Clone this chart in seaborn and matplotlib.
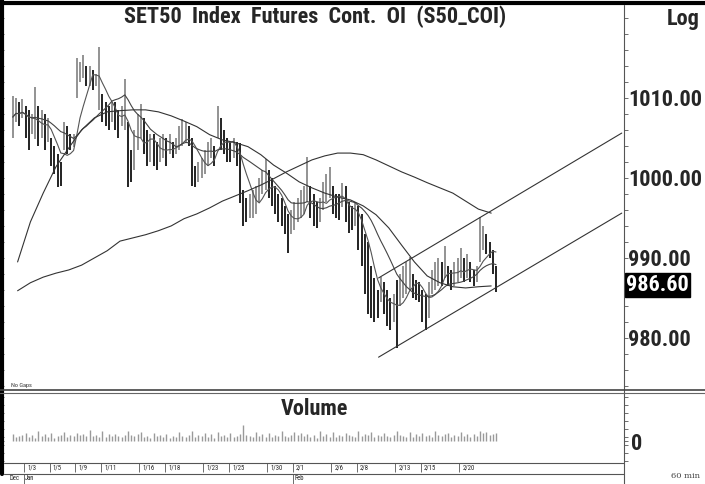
import numpy as np
import pandas as pd
import seaborn as sns
import matplotlib.pyplot as plt
from matplotlib.lines import Line2D
from matplotlib import font_manager

# --- data (4 bars per trading day) ---
days = ['12/30', '1/3', '1/4', '1/5', '1/6', '1/9', '1/10', '1/11', '1/12', '1/13',
        '1/16', '1/17', '1/18', '1/19', '1/20', '1/23', '1/24', '1/25', '1/26', '1/27',
        '1/30', '1/31', '2/1', '2/2', '2/3', '2/6', '2/7', '2/8', '2/9', '2/10',
        '2/13', '2/14', '2/15', '2/16', '2/17', '2/20', '2/21', '2/22']
labelled_days = ['1/3', '1/5', '1/9', '1/11', '1/16', '1/18', '1/23', '1/25', '1/30',
                 '2/1', '2/6', '2/8', '2/13', '2/15', '2/20']

highs = [
    1010.2, 1010.0, 1009.5, 1009.8,  1009.0, 1008.5, 1008.0, 1011.3,
    1009.0, 1008.5, 1008.0, 1007.5,  1005.0, 1004.0, 1003.0, 1002.0,
    1007.0, 1006.5, 1005.5, 1005.5,  1015.0, 1014.5, 1015.3, 1014.0,
    1014.0, 1013.5, 1013.0, 1016.3,  1010.5, 1009.5, 1009.0, 1009.5,
    1009.5, 1008.5, 1009.0, 1012.3,  1007.0, 1003.5, 1006.0, 1008.0,
    1009.2, 1007.5, 1006.0, 1005.5,  1005.5, 1004.5, 1005.0, 1005.5,
    1005.0, 1005.5, 1004.5, 1005.0,  1006.5, 1007.3, 1007.0, 1006.5,
    1005.0, 1001.5, 1002.0, 1002.5,  1003.5, 1004.5, 1005.0, 1004.0,
    1009.0, 1007.5, 1006.0, 1005.0,  1004.5, 1005.0, 1004.5, 1004.4,
    998.5, 997.5, 998.0, 998.5,      999.0, 1000.0, 1001.0, 1002.3,
    1001.0, 1000.0, 999.0, 998.0,    997.5, 996.5, 995.5, 996.0,
    997.0, 997.5, 998.5, 999.0,      1002.6, 999.0, 998.0, 997.0,
    997.5, 999.5, 1000.5, 1001.4,    999.0, 998.0, 998.0, 999.4,
    999.0, 997.0, 996.5, 997.0,      996.5, 995.5, 993.0, 992.0,
    989.0, 987.5, 986.0, 987.6,      987.0, 986.0, 985.0, 985.5,
    987.2, 988.0, 989.0, 989.5,      990.1, 988.0, 987.2, 987.0,
    986.0, 985.5, 987.0, 988.5,      989.5, 990.0, 989.5, 991.5,
    989.0, 988.5, 989.5, 990.0,      991.3, 990.0, 990.5, 989.5,
    988.5, 989.0, 995.1, 994.0,      993.0, 992.0, 991.0, 989.0,
]
lows = [
    1005.0, 1007.0, 1006.5, 1007.5,  1005.0, 1003.5, 1005.5, 1004.8,
    1004.0, 1005.0, 1003.5, 1004.5,  1001.5, 1000.5, 998.8, 999.0,
    1003.5, 1003.0, 1003.5, 1003.8,  1010.0, 1012.0, 1012.5, 1011.5,
    1011.5, 1011.0, 1011.5, 1008.5,  1007.0, 1006.5, 1006.0, 1007.0,
    1006.0, 1005.0, 1006.5, 1006.0,  998.8, 999.5, 1001.0, 1003.5,
    1005.0, 1003.0, 1001.5, 1002.0,  1001.5, 1001.0, 1002.0, 1002.5,
    1001.5, 1003.0, 1002.5, 1003.0,  1003.5, 1004.0, 1004.5, 1004.0,
    999.0, 998.8, 999.5, 1000.0,     1000.5, 1001.5, 1002.5, 1001.5,
    1005.0, 1003.5, 1003.0, 1002.0,  1002.0, 1002.5, 1001.5, 996.9,
    994.0, 994.5, 995.0, 995.0,      995.5, 997.0, 998.0, 998.5,
    997.5, 996.5, 995.5, 994.5,      994.0, 993.0, 990.6, 993.0,
    993.5, 994.5, 995.0, 995.5,      997.0, 995.0, 994.0, 993.8,
    994.5, 996.0, 997.0, 997.5,      995.5, 995.0, 994.8, 996.4,
    994.5, 993.1, 993.5, 994.0,      991.0, 989.0, 985.5, 983.0,
    982.5, 982.0, 982.5, 984.5,      983.0, 981.5, 981.0, 982.0,
    978.8, 984.0, 985.0, 985.5,      986.0, 985.0, 984.8, 984.5,
    982.0, 981.0, 982.5, 985.5,      986.0, 986.5, 986.5, 987.5,
    986.5, 986.0, 986.5, 987.0,      987.5, 987.0, 987.5, 987.0,
    986.5, 987.0, 989.5, 991.0,      990.5, 990.0, 988.0, 985.8,
]
# volume in thousand contracts
volume = [
    7, 4, 5, 6,  8, 4, 6, 3,  10, 5, 7, 4,  8, 3, 5, 6,  9, 4, 6, 5,
    8, 6, 7, 5,  11, 5, 6, 4,  10, 4, 7, 5,  7, 5, 4, 6,  10, 6, 5, 7,
    9, 4, 5, 3,  8, 5, 6, 4,  7, 3, 5, 4,  9, 5, 4, 6,  10, 4, 6, 5,
    8, 4, 7, 3,  9, 5, 6, 4,  8, 4, 5, 7,  16, 6, 5, 4,  9, 5, 7, 4,
    8, 4, 6, 5,  10, 5, 4, 6,  9, 6, 8, 5,  7, 4, 6, 3,  10, 5, 7, 4,
    9, 4, 6, 5,  8, 6, 5, 4,  10, 5, 7, 6,  9, 4, 6, 5,  8, 5, 4, 6,
    10, 6, 5, 4,  9, 4, 7, 5,  8, 5, 6, 4,  10, 6, 5, 7,  8, 4, 6, 5,
    9, 5, 7, 4,  7, 5, 10, 8,  9, 6, 7, 8,
]
# slower moving averages, one reading per day
ma_slow = [985.9, 986.9, 987.6, 988.1, 988.5, 989.1, 990.0, 990.9, 992.1, 992.5,
           992.9, 993.4, 994.0, 994.9, 995.5, 996.25, 997.1, 997.75, 998.4, 999.1,
           999.9, 1000.75, 1001.5, 1002.25, 1002.75, 1003.1, 1003.1, 1002.9, 1002.25, 1001.5,
           1000.75, 1000.1, 999.4, 998.75, 998.1, 997.1, 996.1, 995.6]
ma_med = [989.5, 994.5, 998.1, 1001.4, 1003.75, 1006.0, 1007.5, 1008.25, 1008.4, 1008.5,
          1008.5, 1008.25, 1007.75, 1007.1, 1006.4, 1005.4, 1004.75, 1004.4, 1003.9, 1002.9,
          1001.6, 1000.6, 999.5, 998.75, 998.1, 997.6, 997.25, 996.5, 995.4, 993.75,
          991.6, 989.5, 987.75, 986.9, 986.4, 986.25, 986.4, 986.5]
# trend channel (day position, price)
chan_x = [28.7, 47.7]
chan_upper = [987.5, 1005.6]
chan_lower = [977.6, 995.6]
last_price = 986.60

# --- frame ---
df = pd.DataFrame({'high': highs, 'low': lows, 'volume': volume})
df['x'] = np.arange(len(df)) / 4 + 0.125
df['mid'] = (df['high'] + df['low']) / 2
df['ma_fast'] = df['mid'].rolling(6, min_periods=1).mean()
df['ma_short'] = df['mid'].rolling(16, min_periods=1).mean()
df['up'] = df['mid'].diff().fillna(0) >= 0
day_x = np.arange(len(days)) + 0.5

sns.set_theme(style='white')

# pick a narrow bold face if one is installed, else plain Arial-metric sans
installed = {f.name for f in font_manager.fontManager.ttflist}
narrow = None
for cand in ['Liberation Sans Narrow', 'Roboto Condensed', 'DejaVu Sans Condensed',
             'Open Sans Condensed']:
    if cand in installed:
        narrow = cand
        break
if narrow:
    plt.rcParams['font.family'] = [narrow, 'DejaVu Sans']
    big = 16
else:
    plt.rcParams['font.family'] = ['Liberation Sans', 'DejaVu Sans']
    big = 13.5

W, H = 705, 484
def box(l, t, r, b):
    return [l / W, 1 - b / H, (r - l) / W, (b - t) / H]

fig = plt.figure(figsize=(7.05, 4.84), dpi=100)
ax = fig.add_axes(box(4, 5, 624, 390))
axv = fig.add_axes(box(4, 393, 624, 463), sharex=ax)
axd = fig.add_axes(box(4, 463, 624, 484), sharex=ax)
xlim = (-0.5625, 47.875)

# price bars
for up, grp in df.groupby('up'):
    ax.vlines(grp['x'], grp['low'], grp['high'],
              color='#8a8a8a' if up else '#111111', lw=1.3)

line_kw = dict(legend=False, lw=0.8)
sns.lineplot(x=df['x'], y=df['ma_fast'], ax=ax, color='#555555', **line_kw)
sns.lineplot(x=df['x'], y=df['ma_short'], ax=ax, color='#444444', **line_kw)
sns.lineplot(x=day_x, y=ma_med, ax=ax, color='#333333', **line_kw)
sns.lineplot(x=day_x, y=ma_slow, ax=ax, color='#333333', **line_kw)
sns.lineplot(x=chan_x, y=chan_upper, ax=ax, color='#333333', **line_kw)
sns.lineplot(x=chan_x, y=chan_lower, ax=ax, color='#333333', **line_kw)

ax.set_xlim(*xlim)
ax.set_ylim(973.5, 1021.6)
ax.set_xlabel('')
ax.set_ylabel('')
for s in ax.spines.values():
    s.set_visible(False)
ax.set_xticks([])
ax.yaxis.tick_right()
ax.set_yticks([980, 990, 1000, 1010])
ax.set_yticklabels(['980.00', '990.00', '1000.00', '1010.00'])
ax.set_yticks(np.arange(974, 1022, 2), minor=True)
ax.tick_params(axis='y', which='both', left=True, right=True, direction='out',
               length=3, width=0.6, color='#555555', pad=0)
ax.tick_params(axis='y', which='major', labelsize=big, labelright=True, labelleft=False)
for lab in ax.get_yticklabels():
    lab.set_fontweight('bold')
ax.text(1.003, last_price, f'{last_price:.2f}', transform=ax.get_yaxis_transform(),
        ha='left', va='center', fontsize=big, fontweight='bold', color='white',
        bbox=dict(boxstyle='square,pad=0.05', fc='black', ec='black'))
ax.text(0.012, 0.005, 'No Gaps', transform=ax.transAxes, fontsize=4.5, color='#333333',
        ha='left', va='bottom')

# volume panel
axv.vlines(df['x'], 0, df['volume'], color='#9a9a9a', lw=1.0)
axv.set_ylim(-22, 48)
for s in axv.spines.values():
    s.set_visible(False)
axv.set_xticks([])
axv.yaxis.tick_right()
axv.set_yticks([0])
axv.set_yticklabels(['0'])
axv.set_yticks(np.arange(-20, 48, 8), minor=True)
axv.tick_params(axis='y', which='both', left=True, right=True, length=3, width=0.6,
                color='#555555', pad=2, labelsize=big)
for lab in axv.get_yticklabels():
    lab.set_fontweight('bold')
axv.text(0.5, 0.93, 'Volume', transform=axv.transAxes, ha='center', va='top',
         fontsize=big, fontweight='bold')

# date rows
axd.set_ylim(0, 21)
axd.axis('off')
for lbl in labelled_days:
    k = days.index(lbl)
    axd.vlines(k, 12, 21, color='#555555', lw=0.6)
    axd.text(k + 0.25, 16, lbl, fontsize=4.8, ha='left', va='center', color='#222222')
for k, month in [(0, 'Dec'), (1, 'Jan'), (22, 'Feb')]:
    if k > 0:
        axd.vlines(k, 0, 10, color='#555555', lw=0.6)
    axd.text(k + 0.1 if k > 0 else -0.1, 5, month, fontsize=4.8, ha='left', va='center',
             color='#222222')

# titles and frame lines
fig.text(315 / W, 1 - 17 / H, 'SET50  Index  Futures  Cont.  OI  (S50_COI)', ha='center',
         va='center', fontsize=big, fontweight='bold')
fig.text(700 / W, 1 - 19 / H, 'Log', ha='right', va='center', fontsize=big, fontweight='bold')
fig.text(700 / W, 1 - 476 / H, '60 min', ha='right', va='center', fontsize=6,
         family='DejaVu Serif', color='#444444')

def fline(x0, y0, x1, y1, **kw):
    fig.add_artist(Line2D([x0 / W, x1 / W], [1 - y0 / H, 1 - y1 / H], **kw))

fline(0, 3, W, 3, color='black', lw=3)
fline(2, 0, 2, 474, color='black', lw=3)
fline(624, 5, 624, H, color='#555555', lw=0.8)
fline(0, 390, W, 390, color='#444444', lw=1.2)
fline(0, 393, W, 393, color='#666666', lw=0.8)
fline(4, 463, 624, 463, color='#555555', lw=0.8)
fline(4, 474, 624, 474, color='#555555', lw=0.8)

fig.savefig('out.png', dpi=100)
